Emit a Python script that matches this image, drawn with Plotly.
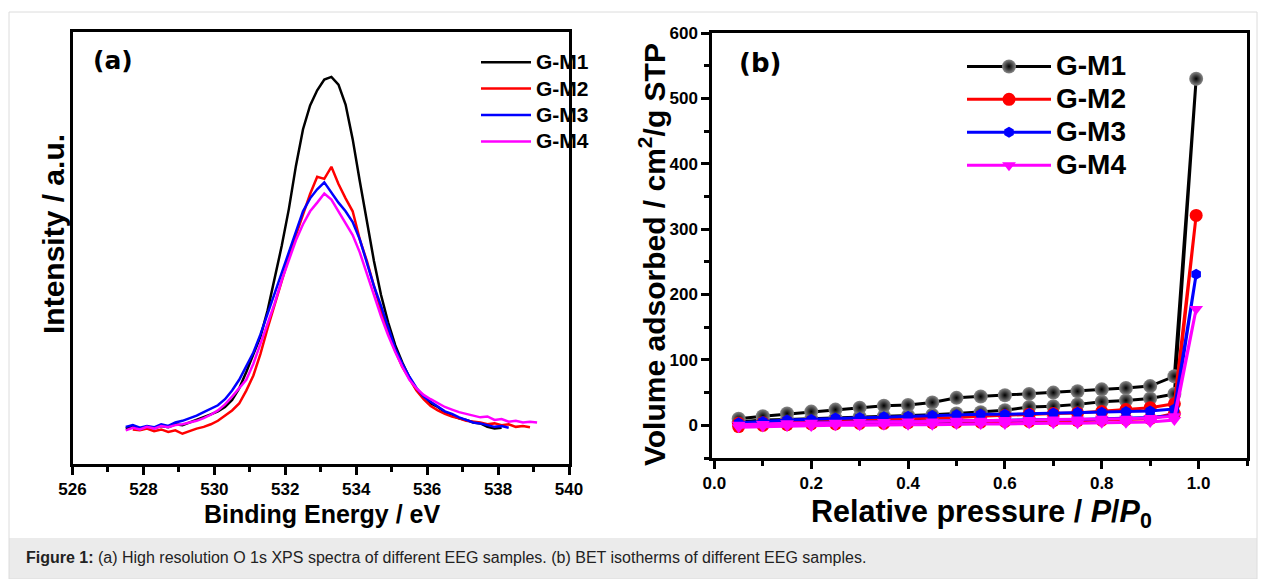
import plotly.graph_objects as go

# ---------------- Panel (a): O 1s XPS spectra ----------------
energy = [527.5, 527.7, 527.9, 528.1, 528.3, 528.5, 528.7, 528.9, 529.1, 529.3,
          529.5, 529.7, 529.9, 530.1, 530.3, 530.5, 530.7, 530.9, 531.1, 531.3,
          531.5, 531.7, 531.9, 532.1, 532.3, 532.5, 532.7, 532.9, 533.1, 533.3,
          533.5, 533.7, 533.9, 534.1, 534.3, 534.5, 534.7, 534.9, 535.1, 535.3,
          535.5, 535.7, 535.9, 536.1, 536.3, 536.5, 536.7, 536.9, 537.1, 537.3,
          537.5, 537.7, 537.9, 538.1, 538.3, 538.5, 538.7, 538.9, 539.1]

gm1_xps = [82, 86, 80, 84, 83, 88, 85, 92, 90, 96,
           102, 108, 115, 122, 132, 148, 175, 213, 252, 295,
           355, 430, 505, 590, 690, 775, 830, 865, 890, 896,
           878, 832, 752, 655, 560, 470, 391, 328, 275, 235,
           200, 172, 158, 140, 132, 120, 112, 106, 102, 96,
           94, 86, 82, 84]
gm2_xps = [None, 80, 78, 82, 76, 80, 74, 78, 70, 76,
           82, 86, 92, 100, 112, 124, 140, 170, 205, 255,
           314, 370, 425, 478, 530, 578, 625, 665, 660, 688,
           648, 615, 585, 520, 470, 412, 355, 306, 262, 225,
           196, 170, 150, 134, 124, 116, 110, 106, 100, 98,
           96, 92, 94, 90, 92, 86, 88, 85]
gm3_xps = [86, 90, 84, 88, 85, 92, 88, 96, 100, 106,
           112, 120, 128, 136, 150, 170, 195, 225, 258, 300,
           348, 392, 440, 492, 540, 585, 615, 636, 652, 628,
           605, 585, 560, 520, 465, 412, 366, 315, 267, 232,
           202, 176, 156, 144, 132, 122, 116, 108, 102, 96,
           94, 90, 86, 88, 84]
gm4_xps = [78, 84, 80, 86, 82, 88, 85, 90, 92, 96,
           100, 106, 114, 124, 138, 156, 175, 195, 232, 278,
           325, 372, 425, 472, 518, 555, 585, 605, 626, 612,
           585, 560, 530, 490, 440, 390, 342, 298, 259, 225,
           195, 175, 160, 150, 140, 132, 126, 120, 116, 112,
           108, 110, 102, 104, 98, 100, 96, 98, 96]

# ---------------- Panel (b): BET isotherms ----------------
p_ads = [0.05, 0.10, 0.15, 0.20, 0.25, 0.30, 0.35, 0.40, 0.45, 0.50,
         0.55, 0.60, 0.65, 0.70, 0.75, 0.80, 0.85, 0.90, 0.95, 0.995]
p_des = [0.95, 0.90, 0.85, 0.80, 0.75, 0.70, 0.65, 0.60, 0.55, 0.50,
         0.45, 0.40, 0.35, 0.30, 0.25, 0.20, 0.15, 0.10, 0.05]

gm1_ads = [5, 8, 9, 10, 11, 13, 14, 15, 16, 18, 20, 23, 28, 29, 32, 36, 38, 41, 48, 530]
gm1_des = [75, 60, 57, 55, 52, 50, 48, 46, 44, 42, 35, 31, 30, 27, 24, 21, 18, 14, 10]
gm2_ads = [-2, 0, 1, 2, 2, 3, 3, 4, 4, 5, 5, 6, 6, 7, 7, 8, 9, 10, 18, 321]
gm2_des = [33, 27, 24, 21, 19, 18, 17, 15, 14, 12, 11, 10, 9, 8, 7, 6, 5, 4, 3]
gm3_ads = [1, 2, 3, 4, 4, 5, 5, 6, 6, 7, 7, 8, 8, 9, 9, 10, 11, 12, 15, 231]
gm3_des = [25, 22, 21, 20, 20, 19, 18, 17, 17, 16, 15, 14, 13, 12, 11, 9, 8, 6, 4]
gm4_ads = [-3, -2, -1, -1, 0, 0, 1, 1, 1, 2, 2, 2, 3, 3, 3, 4, 4, 5, 8, 178]
gm4_des = [14, 11, 10, 10, 9, 9, 8, 8, 7, 7, 6, 6, 5, 5, 4, 4, 3, 2, 1]

names = ["G-M1", "G-M2", "G-M3", "G-M4"]
colors = ["#000000", "#ff0000", "#0000ff", "#ff00ff"]

W, H = 1265, 579
FONT = "Arial, Liberation Sans, sans-serif"
WIDE = "DejaVu Sans, Verdana, sans-serif"


def px(x):
    return x / W


def py(y):
    return 1 - y / H


fig = go.Figure()

xps_sets = [gm1_xps, gm2_xps, gm3_xps, gm4_xps]
for name, col, vals in zip(names, colors, xps_sets):
    fig.add_trace(go.Scatter(
        x=energy[:len(vals)], y=vals, mode="lines",
        name='<span style="font-size:21px">%s</span>' % name,
        line=dict(color=col, width=2.5), xaxis="x", yaxis="y",
        legend="legend", connectgaps=False))

bet_sets = [(gm1_ads, gm1_des), (gm2_ads, gm2_des), (gm3_ads, gm3_des), (gm4_ads, gm4_des)]
markers = [
    dict(symbol="circle", size=14, color="#8a8a8a",
         gradient=dict(type="radial", color="#000000"), line=dict(width=0)),
    dict(symbol="circle", size=13, color="#ff0000", line=dict(width=0)),
    dict(symbol="hexagon", size=11, color="#0000ff", line=dict(width=0)),
    dict(symbol="triangle-down", size=12, color="#ff00ff", line=dict(width=0)),
]
for name, col, (ads, des), mk in zip(names, colors, bet_sets, markers):
    fig.add_trace(go.Scatter(
        x=p_ads + p_des, y=ads + des, mode="lines+markers",
        name='<span style="font-size:28px">%s</span>' % name,
        line=dict(color=col, width=3), marker=mk, xaxis="x2", yaxis="y2",
        legend="legend2"))

tickfont = dict(family=FONT, size=17, color="black", weight="bold")
axis_common = dict(showline=True, linecolor="black", linewidth=2.5, mirror=True,
                   showgrid=False, zeroline=False, ticks="outside", tickwidth=2.5,
                   tickcolor="black", tickfont=tickfont, automargin=False)

fig.update_layout(
    width=W, height=H,
    margin=dict(l=0, r=0, t=0, b=0, pad=0, autoexpand=False),
    paper_bgcolor="white", plot_bgcolor="white",
    xaxis=dict(domain=[px(72.5), px(569)], range=[526, 540], dtick=2, ticklen=8,
               minor=dict(dtick=1, ticklen=5, tickwidth=2.5, tickcolor="black", ticks="outside"),
               anchor="y", **axis_common),
    yaxis=dict(domain=[py(464), py(32)], range=[0, 1000], showline=True, linecolor="black",
               linewidth=2.5, mirror=True, showgrid=False, zeroline=False,
               showticklabels=False, ticks="", anchor="x", automargin=False),
    xaxis2=dict(domain=[px(712), px(1247)], range=[-0.005, 1.1], dtick=0.2, tick0=0,
                tickformat=".1f", ticklen=8,
                minor=dict(dtick=0.1, ticklen=5, tickwidth=2.5, tickcolor="black", ticks="outside"),
                anchor="y2", **axis_common),
    yaxis2=dict(domain=[py(458), py(33)], range=[-50, 600], dtick=100, tick0=0, ticklen=8,
                minor=dict(dtick=50, ticklen=5, tickwidth=2.5, tickcolor="black", ticks="outside"),
                anchor="x2", **axis_common),
    legend=dict(x=px(476), y=py(44), xanchor="left", yanchor="top",
                font=dict(family=FONT, size=18, color="black", weight="bold"),
                bgcolor="rgba(0,0,0,0)", itemwidth=50, tracegroupgap=0),
    legend2=dict(x=px(962), y=py(45), xanchor="left", yanchor="top",
                 font=dict(family=FONT, size=23, color="black", weight="bold"),
                 bgcolor="rgba(0,0,0,0)", itemwidth=84, tracegroupgap=0),
    showlegend=True,
)

title_font_a = dict(family=FONT, size=25, color="black", weight="bold")
annotations = [
    dict(text="(a)", x=px(113), y=py(60), font=dict(family=WIDE, size=25, color="black", weight="bold")),
    dict(text="(b)", x=px(760), y=py(63), font=dict(family=WIDE, size=26, color="black", weight="bold")),
    dict(text="Binding Energy / eV", x=px(322), y=py(514), font=title_font_a),
    dict(text="Intensity / a.u.", x=px(53), y=py(234), textangle=-90,
         font=dict(family=FONT, size=30, color="black", weight="bold")),
    dict(text="Relative pressure / <i>P</i>/<i>P</i><sub>0</sub>", x=px(981), y=py(513),
         font=dict(family=FONT, size=30.5, color="black", weight="bold")),
    dict(text="Volume adsorbed / cm<sup>2</sup>/g STP", x=px(652), y=py(255), textangle=-90,
         font=dict(family=FONT, size=30, color="black", weight="bold")),
    dict(text="<b>Figure 1:</b> (a) High resolution O 1s XPS spectra of different EEG samples. "
              "(b) BET isotherms of different EEG samples.",
         x=px(24), y=py(557), xanchor="left",
         font=dict(family=FONT, size=16, color="#222222")),
]
for a in annotations:
    a.setdefault("xref", "paper")
    a.setdefault("yref", "paper")
    a.setdefault("showarrow", False)
    a.setdefault("xanchor", "center")
    a.setdefault("yanchor", "middle")
    fig.add_annotation(**a)

fig.add_shape(type="rect", xref="paper", yref="paper", x0=px(9), x1=px(1257), y0=0, y1=py(538),
              fillcolor="#ebebeb", line=dict(width=0), layer="below")
fig.add_shape(type="rect", xref="paper", yref="paper", x0=px(9), x1=px(1257), y0=0, y1=py(12),
              fillcolor="rgba(0,0,0,0)", line=dict(color="#dcdcdc", width=1), layer="below")

fig.write_html("out.html")
